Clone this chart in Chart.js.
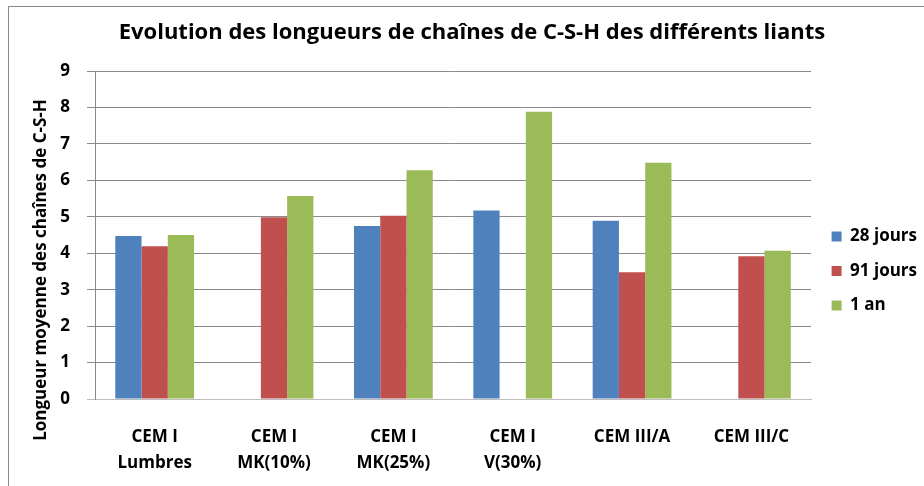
<!DOCTYPE html>
<html>
<head>
<meta charset="utf-8">
<script src="https://cdn.jsdelivr.net/npm/chart.js@4.4.0/dist/chart.umd.min.js"></script>
<style>
  html, body { margin: 0; padding: 0; background: #fff; overflow: hidden; }
  #wrap { position: relative; width: 924px; height: 486px; }
  #frame { position: absolute; left: 8px; top: 6px; width: 940px; height: 500px;
           border-left: 1px solid #8c8c8c; border-top: 1px solid #8c8c8c; pointer-events: none; }
</style>
</head>
<body>
<div id="wrap">
  <canvas id="chart" width="924" height="486"></canvas>
  <div id="frame"></div>
</div>
<script>
// liants étudiés
const categories = [
  ["CEM I", "Lumbres"],
  ["CEM I", "MK(10%)"],
  ["CEM I", "MK(25%)"],
  ["CEM I", "V(30%)"],
  "CEM III/A",
  "CEM III/C"
];

// longueur moyenne des chaînes par échéance (null = pas de mesure)
const jours28 = [4.47, null, 4.75, 5.17, 4.89, null];
const jours91 = [4.19, 4.99, 5.03, null, 3.48, 3.92];
const an1     = [4.50, 5.57, 6.28, 7.88, 6.48, 4.07];

const seriesNames = ["28 jours", "91 jours", "1 an"];
const yTicks = [0, 1, 2, 3, 4, 5, 6, 7, 8, 9];

const FONT = "'Open Sans', Calibri, sans-serif";

// titre de l'axe vertical, dessiné à la main pour le placer comme dans Excel
const yTitlePlugin = {
  id: "yTitle",
  afterDraw(chart) {
    const ctx = chart.ctx;
    ctx.save();
    ctx.translate(41, 270);
    ctx.rotate(-Math.PI / 2);
    ctx.font = "bold 17px " + FONT;
    ctx.fillStyle = "#000";
    ctx.textAlign = "center";
    ctx.textBaseline = "middle";
    ctx.fillText("Longueur moyenne des chaînes de C-S-H", 0, 0);
    ctx.restore();
  }
};

// recale la légende et le titre
const layoutShift = {
  id: "layoutShift",
  afterLayout(chart) {
    const lg = chart.legend;
    lg.top += 28;
    lg.bottom += 28;
    lg.left += 3;
    lg.right += 3;
    const tb = chart.titleBlock;
    if (tb) { tb.left += 6; tb.right += 6; }
  }
};

new Chart(document.getElementById("chart"), {
  type: "bar",
  data: {
    labels: categories,
    datasets: [
      { label: seriesNames[0], data: jours28, backgroundColor: "#4F81BD" },
      { label: seriesNames[1], data: jours91, backgroundColor: "#C0504D" },
      { label: seriesNames[2], data: an1, backgroundColor: "#9BBB59" }
    ]
  },
  plugins: [yTitlePlugin, layoutShift],
  options: {
    responsive: false,
    animation: false,
    layout: { padding: { left: 8, right: 0, top: 0, bottom: 0 } },
    datasets: { bar: { categoryPercentage: 0.66, barPercentage: 1.0 } },
    plugins: {
      title: {
        display: true,
        text: "Evolution des longueurs de chaînes de C-S-H des différents liants",
        color: "#000",
        font: { family: FONT, size: 22, weight: "bold", lineHeight: 1.2 },
        padding: { top: 20, bottom: 24.6 }
      },
      legend: {
        position: "right",
        labels: {
          color: "#000",
          boxWidth: 10,
          boxHeight: 10,
          padding: 17.5,
          font: { family: FONT, size: 17, weight: "bold" }
        }
      },
      tooltip: { enabled: false }
    },
    scales: {
      x: {
        grid: { display: false, drawTicks: false },
        border: { color: "#bdbdbd" },
        ticks: {
          color: "#000",
          padding: 25,
          maxRotation: 0,
          font: { family: FONT, size: 17, weight: "bold", lineHeight: 1.53 }
        },
        afterFit(scale) { scale.height = 87; }
      },
      y: {
        min: 0,
        max: 9,
        afterBuildTicks(scale) { scale.ticks = yTicks.map(v => ({ value: v })); },
        grid: {
          color: ctx => (ctx.tick && ctx.tick.value === 0 ? "#bdbdbd" : "#8a8a8a"),
          tickLength: 8
        },
        border: { color: "#8a8a8a" },
        ticks: {
          color: "#000",
          padding: 17,
          font: { family: FONT, size: 17, weight: "bold" }
        },
        afterFit(scale) { scale.width = 87; }
      }
    }
  }
});
</script>
</body>
</html>
